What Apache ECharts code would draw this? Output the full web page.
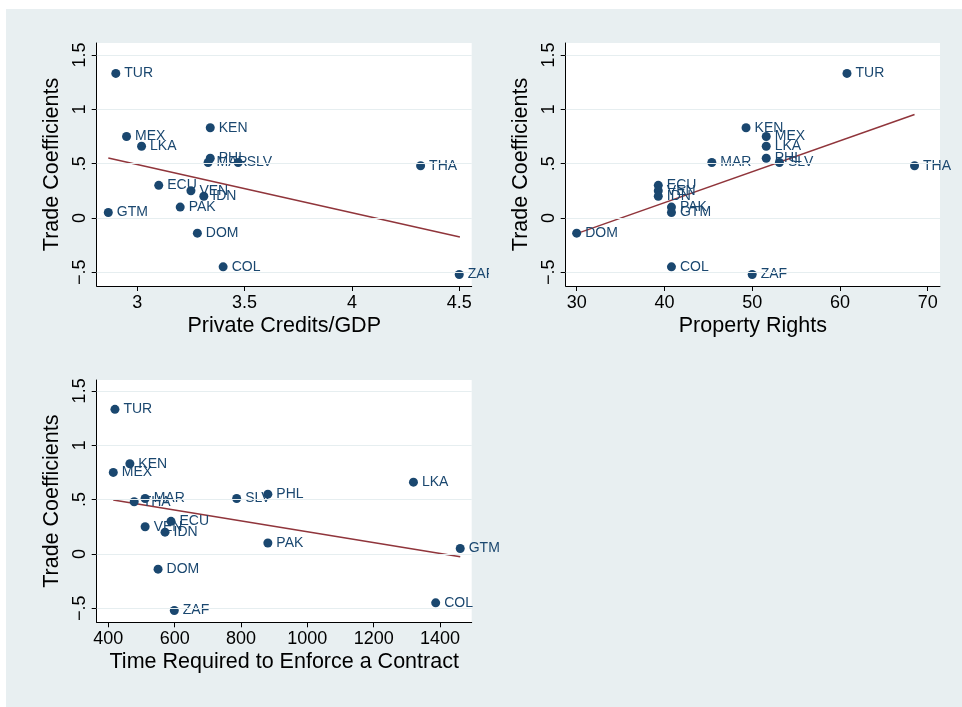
<!DOCTYPE html>
<html>
<head>
<meta charset="utf-8">
<script src="https://cdn.jsdelivr.net/npm/echarts@6/dist/echarts.min.js"></script>
<style>
  html, body { margin: 0; padding: 0; background: #ffffff; }
  #wrap { position: relative; width: 962px; height: 707px; background: #ffffff; }
  #chart { position: absolute; left: 6px; top: 9px; width: 956px; height: 698px; }
</style>
</head>
<body>
<div id="wrap"><div id="chart"></div></div>
<script>
// Country codes and the values plotted against trade coefficients
const countries   = ['TUR', 'KEN', 'MEX', 'LKA', 'PHL', 'MAR', 'SLV', 'THA', 'ECU', 'VEN', 'IDN', 'PAK', 'GTM', 'DOM', 'COL', 'ZAF'];
const tradeCoef   = [1.33, 0.83, 0.75, 0.66, 0.55, 0.51, 0.51, 0.48, 0.30, 0.25, 0.20, 0.10, 0.05, -0.14, -0.45, -0.52];
const privCredit  = [2.90, 3.34, 2.95, 3.02, 3.34, 3.33, 3.47, 4.32, 3.10, 3.25, 3.31, 3.20, 2.865, 3.28, 3.40, 4.50];
const propRights  = [60.8, 49.3, 51.6, 51.6, 51.6, 45.4, 53.1, 68.5, 39.3, 39.3, 39.3, 40.8, 40.8, 30.0, 40.8, 50.0];
const enforceTime = [420, 465, 415, 1320, 881, 511, 787, 478, 589, 511, 571, 881, 1461, 550, 1387, 599];

// Fitted-line endpoints (x, y) for each panel
const fitCreditX = [2.865, 4.503], fitCreditY = [0.552, -0.175];
const fitPropX   = [30.0, 68.5],   fitPropY   = [-0.144, 0.952];
const fitTimeX   = [415, 1461],    fitTimeY   = [0.497, -0.025];

// Tick values
const yTicks      = [-0.5, 0, 0.5, 1, 1.5];
const creditTicks = [3, 3.5, 4, 4.5];
const propTicks   = [30, 40, 50, 60, 70];
const timeTicks   = [400, 600, 800, 1000, 1200, 1400];

const yTitle = 'Trade Coefficients';
const xTitles = ['Private Credits/GDP', 'Property Rights', 'Time Required to Enforce a Contract'];

const FONT = '"Liberation Sans", Arial, Helvetica, sans-serif';
const NAVY = '#1a476f';
const MAROON = '#90353b';
const BG = '#e8eff1';
const GRIDLINE = '#e6eef0';

const ox = 6, oy = 9; // chart container offset within the page

function fmtTick(v) {
  if (v === 0) return '0';
  let s = String(Math.abs(v));
  if (s.startsWith('0.')) s = s.slice(1);
  return (v < 0 ? '\u2212' : '') + s;
}

const grids = [
  { left: 96.7 - ox, top: 43 - oy, width: 375, height: 243 },
  { left: 565.7 - ox, top: 43 - oy, width: 374.3, height: 243 },
  { left: 96.7 - ox, top: 380 - oy, width: 375, height: 242.3 }
].map(g => Object.assign({ show: true, backgroundColor: '#ffffff', borderWidth: 0 }, g));

function xAxis(idx, min, max, ticks, name) {
  return {
    type: 'value', gridIndex: idx, min: min, max: max,
    name: name, nameLocation: 'middle', nameGap: 29,
    nameTextStyle: { fontFamily: FONT, fontSize: 21.5, color: '#000' },
    axisLine: { show: true, onZero: false, lineStyle: { color: '#000', width: 1 } },
    axisTick: { show: true, length: 5, customValues: ticks, lineStyle: { color: '#000' } },
    axisLabel: { customValues: ticks, margin: 8, fontFamily: FONT, fontSize: 18, color: '#000',
                 formatter: v => fmtTick(v) },
    splitLine: { show: false }
  };
}

function yAxis(idx, min, max) {
  return {
    type: 'value', gridIndex: idx, min: min, max: max,
    name: yTitle, nameLocation: 'middle', nameGap: 34,
    nameTextStyle: { fontFamily: FONT, fontSize: 21.5, color: '#000' },
    axisLine: { show: true, onZero: false, lineStyle: { color: '#000', width: 1 } },
    axisTick: { show: true, length: 5, customValues: yTicks, lineStyle: { color: '#000' } },
    axisLabel: { customValues: yTicks, rotate: 90, margin: 8, fontFamily: FONT, fontSize: 18, color: '#000',
                 formatter: v => fmtTick(v) },
    splitLine: { show: false }
  };
}

// Horizontal gridlines drawn under the markers
function gridlineSeries(idx) {
  return {
    type: 'line', xAxisIndex: idx, yAxisIndex: idx, data: [], silent: true, z: 1,
    markLine: {
      silent: true, symbol: ['none', 'none'], label: { show: false },
      lineStyle: { color: GRIDLINE, width: 1.2, type: 'solid' },
      data: yTicks.map(v => ({ yAxis: v }))
    }
  };
}

function pointSeries(idx, xs) {
  return {
    type: 'scatter', xAxisIndex: idx, yAxisIndex: idx, z: 3,
    symbol: 'circle', symbolSize: 9, itemStyle: { color: NAVY, opacity: 1 },
    data: xs.map((x, i) => [x, tradeCoef[i], countries[i]]),
    label: { show: true, position: 'right', distance: 4, formatter: p => p.data[2],
             fontFamily: FONT, fontSize: 14, color: NAVY },
    labelLayout: { hideOverlap: false },
    emphasis: { disabled: true }
  };
}

function fitSeries(idx, fx, fy) {
  return {
    type: 'line', xAxisIndex: idx, yAxisIndex: idx, z: 2,
    data: fx.map((x, i) => [x, fy[i]]), symbol: 'none',
    lineStyle: { color: MAROON, width: 1.5 }, silent: true
  };
}

const chart = echarts.init(document.getElementById('chart'), null, { renderer: 'canvas' });
chart.setOption({
  animation: false,
  backgroundColor: BG,
  textStyle: { fontFamily: FONT },
  grid: grids,
  xAxis: [
    xAxis(0, 2.811, 4.558, creditTicks, xTitles[0]),
    xAxis(1, 28.75, 71.4, propTicks, xTitles[1]),
    xAxis(2, 365, 1495.6, timeTicks, xTitles[2])
  ],
  yAxis: [
    yAxis(0, -0.626, 1.61),
    yAxis(1, -0.626, 1.61),
    yAxis(2, -0.629, 1.60)
  ],
  series: [
    gridlineSeries(0), gridlineSeries(1), gridlineSeries(2),
    fitSeries(0, fitCreditX, fitCreditY),
    fitSeries(1, fitPropX, fitPropY),
    fitSeries(2, fitTimeX, fitTimeY),
    pointSeries(0, privCredit),
    pointSeries(1, propRights),
    pointSeries(2, enforceTime)
  ],
  graphic: [
    // the first panel's region ends here; its overhanging label is cut off
    { type: 'rect', z: 100, shape: { x: 489 - ox, y: 262 - oy, width: 14, height: 22 },
      style: { fill: BG } }
  ]
});
</script>
</body>
</html>
